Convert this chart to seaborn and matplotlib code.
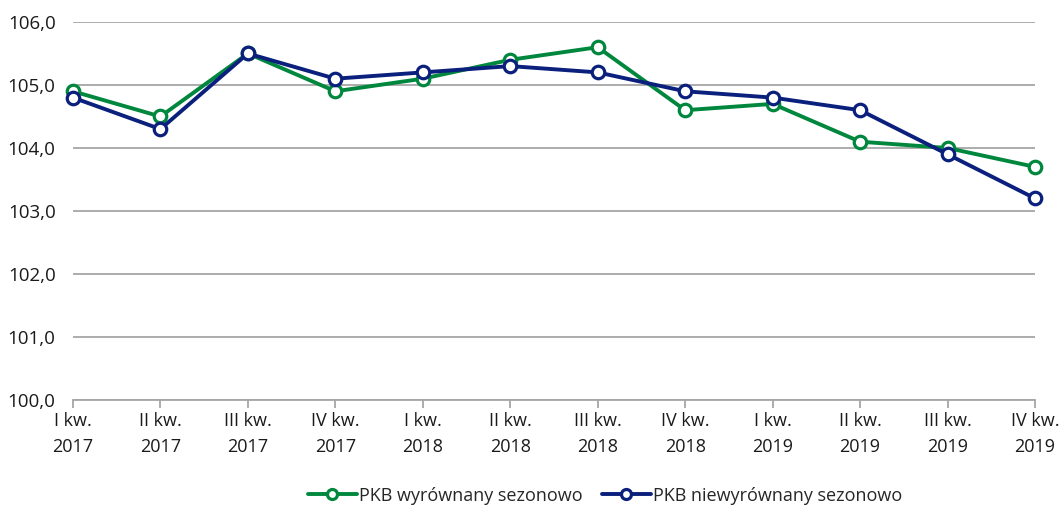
import pandas as pd
import numpy as np
import matplotlib
matplotlib.use("Agg")
import matplotlib.pyplot as plt
import seaborn as sns

# data
quarters = ["I kw.\n2017", "II kw.\n2017", "III kw.\n2017", "IV kw.\n2017",
            "I kw.\n2018", "II kw.\n2018", "III kw.\n2018", "IV kw.\n2018",
            "I kw.\n2019", "II kw.\n2019", "III kw.\n2019", "IV kw.\n2019"]
sa_values = [104.9, 104.5, 105.5, 104.9, 105.1, 105.4, 105.6, 104.6, 104.7, 104.1, 104.0, 103.7]
nsa_values = [104.8, 104.3, 105.5, 105.1, 105.2, 105.3, 105.2, 104.9, 104.8, 104.6, 103.9, 103.2]
series_names = ["PKB wyrównany sezonowo", "PKB niewyrównany sezonowo"]
y_ticks = [100, 101, 102, 103, 104, 105, 106]

data = pd.DataFrame({
    "pos": list(range(len(quarters))) * 2,
    "value": sa_values + nsa_values,
    "series": [series_names[0]] * len(quarters) + [series_names[1]] * len(quarters),
})

sns.set_style("white")
plt.rcParams["font.family"] = ["Open Sans", "DejaVu Sans"]

fig = plt.figure(figsize=(10.62, 5.08), dpi=100)
ax = fig.add_axes([0.0687, 0.2126, 0.9059, 0.7441])

palette = {series_names[0]: "#00873E", series_names[1]: "#0B1F7C"}
sns.lineplot(data=data, x="pos", y="value", hue="series", palette=palette,
             marker="o", markersize=9, markerfacecolor="white",
             markeredgewidth=2.3, linewidth=2.8, ax=ax, legend=False)
for line, c in zip(ax.lines, palette.values()):
    line.set_markeredgecolor(c)
    line.set_clip_on(False)

ax.set_xlim(0, len(quarters) - 1)
ax.set_ylim(100, 106)
ax.set_yticks(y_ticks)
ax.set_yticklabels([f"{v},0" for v in y_ticks])
ax.set_xticks(range(len(quarters)))
ax.set_xticklabels(quarters, linespacing=1.55)
ax.set_xlabel("")
ax.set_ylabel("")
ax.yaxis.grid(True, color="#A6A6A6", linewidth=1.3)
ax.set_axisbelow(True)
for s in ["top", "right", "left"]:
    ax.spines[s].set_visible(False)
ax.spines["bottom"].set_color("#A6A6A6")
ax.spines["bottom"].set_linewidth(1.3)
ax.tick_params(axis="x", bottom=True, length=6, width=1.3, color="#A6A6A6",
               labelsize=13, pad=3, labelcolor="#1a1a1a")
ax.tick_params(axis="y", left=False, labelsize=13.5, pad=9, labelcolor="#1a1a1a")

handles = list(ax.lines[:2])
ax.legend(handles, series_names, loc="lower center", bbox_to_anchor=(0.553, -0.32),
          ncol=2, frameon=False, fontsize=13, handlelength=2.7, markerscale=0.8,
          handletextpad=0.1, columnspacing=1.1)

fig.savefig("out.png", dpi=100)
